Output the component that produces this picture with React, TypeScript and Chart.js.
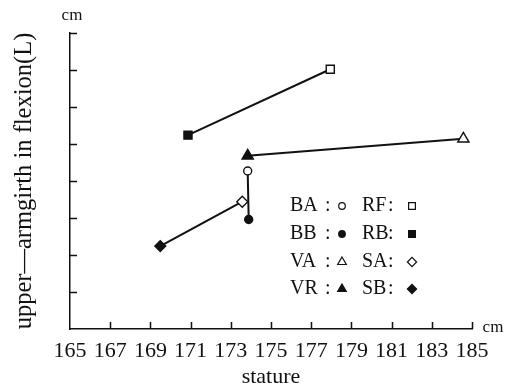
import React, { useEffect, useRef } from 'react';
import { Chart, registerables } from 'chart.js';
import { drawPoint } from 'chart.js/helpers';

Chart.register(...registerables);

// ---- data ----
const xTickValues = [165, 167, 169, 171, 173, 175, 177, 179, 181, 183, 185];
const seriesNames = ['BA', 'BB', 'VA', 'VR', 'RF', 'RB', 'SA', 'SB'];
const statureValues = [173.84, 173.89, 184.57, 173.84, 177.95, 170.87, 173.57, 169.49];
const girthValues = [4.27, 2.96, 5.14, 4.68, 7.02, 5.24, 3.44, 2.24];
const markerStyles = ['circle', 'circle', 'triangle', 'triangle', 'rect', 'rect', 'rectRot', 'rectRot'];
const markerFilled = [false, true, false, true, false, true, false, true];
const linkedPairs = [
  ['BA', 'BB'],
  ['VR', 'VA'],
  ['RB', 'RF'],
  ['SB', 'SA'],
];
const legendColumns = [
  ['BA', 'BB', 'VA', 'VR'],
  ['RF', 'RB', 'SA', 'SB'],
];
const yTickCount = 8;
const xTitle = 'stature';
const yTitle = 'upper\u2014armgirth in flexion(L)';
const unitLabel = 'cm';

// ---- styles ----
const SERIF = "'Liberation Serif', 'Times New Roman', serif";
const INK = '#111';
const markerRadius: Record<string, number> = { circle: 4, triangle: 6.5, rect: 5.7, rectRot: 5.5 };
const legendRadius: Record<string, number> = { circle: 3.3, triangle: 5, rect: 4.8, rectRot: 4.6 };

const idx = (name: string) => seriesNames.indexOf(name);

const decorPlugin = {
  id: 'decor',
  beforeDatasetsDraw(chart: any) {
    const { ctx, chartArea, scales } = chart;
    const x = scales.x;
    const y = scales.y;
    ctx.save();
    ctx.strokeStyle = INK;
    ctx.lineWidth = 1.5;
    ctx.beginPath();
    xTickValues.slice(1).forEach((v) => {
      const px = Math.round(x.getPixelForValue(v)) + 0.5;
      ctx.moveTo(px, chartArea.bottom);
      ctx.lineTo(px, chartArea.bottom - 7);
    });
    for (let i = 1; i <= yTickCount; i++) {
      const py = Math.round(y.getPixelForValue(i)) + 0.5;
      ctx.moveTo(chartArea.left, py);
      ctx.lineTo(chartArea.left + 7, py);
    }
    ctx.stroke();
    ctx.restore();
  },
  afterDraw(chart: any) {
    const { ctx, chartArea } = chart;
    ctx.save();
    ctx.fillStyle = INK;
    ctx.textAlign = 'center';
    ctx.textBaseline = 'middle';
    ctx.font = `17px ${SERIF}`;
    ctx.fillText(unitLabel, chartArea.left + 2, chartArea.top - 17);
    ctx.fillText(unitLabel, chartArea.right + 21, chartArea.bottom - 1);

    // legend
    ctx.font = `20px ${SERIF}`;
    ctx.textAlign = 'left';
    const colText = [chartArea.left + 220, chartArea.left + 292];
    const colColon = [chartArea.left + 255, chartArea.left + 318];
    const colSym = [chartArea.left + 272, chartArea.left + 342];
    const rowY = [205, 233, 261, 288].map((v) => v - 33 + chartArea.top);
    legendColumns.forEach((col, c) => {
      col.forEach((name, r) => {
        const i = idx(name);
        const yy = rowY[r];
        ctx.fillStyle = INK;
        ctx.fillText(name, colText[c], yy + 1);
        ctx.fillText(':', colColon[c], yy + 1);
        const style = markerStyles[i];
        ctx.fillStyle = markerFilled[i] ? INK : '#fff';
        ctx.strokeStyle = INK;
        ctx.lineWidth = 1.2;
        drawPoint(ctx, { pointStyle: style, radius: legendRadius[style], rotation: 0, borderWidth: 1.2 } as any, colSym[c], yy + 1);
      });
    });
    ctx.restore();
  },
};

export default function App() {
  const ref = useRef<HTMLCanvasElement>(null);
  useEffect(() => {
    const canvas = ref.current;
    if (!canvas) return;
    const lineSets = linkedPairs.map(([a, b]) => ({
      type: 'line' as const,
      label: `${a}-${b}`,
      data: [
        { x: statureValues[idx(a)], y: girthValues[idx(a)] },
        { x: statureValues[idx(b)], y: girthValues[idx(b)] },
      ],
      showLine: true,
      borderColor: INK,
      borderWidth: 2,
      pointRadius: 0,
      fill: false,
      order: 2,
    }));
    const markerSet = {
      type: 'scatter' as const,
      label: 'points',
      data: seriesNames.map((_, i) => ({ x: statureValues[i], y: girthValues[i] })),
      pointStyle: markerStyles,
      pointRadius: markerStyles.map((s) => markerRadius[s]),
      backgroundColor: markerFilled.map((f) => (f ? INK : '#fff')),
      borderColor: INK,
      borderWidth: 1.4,
      order: 1,
    };
    const chart = new Chart(canvas, {
      type: 'scatter',
      data: { datasets: [...lineSets, markerSet] as any },
      options: {
        animation: false,
        responsive: false,
        layout: { padding: { top: 33, right: 40, left: 0, bottom: 0 } },
        plugins: { legend: { display: false }, tooltip: { enabled: false } },
        scales: {
          x: {
            type: 'linear',
            min: 165,
            max: 185,
            afterFit: (s: any) => {
              s.height = 59;
            },
            afterBuildTicks: (s: any) => {
              s.ticks = xTickValues.map((v) => ({ value: v }));
            },
            ticks: {
              autoSkip: false,
              maxRotation: 0,
              padding: 1,
              color: INK,
              font: { family: SERIF, size: 22 },
            },
            grid: { display: false },
            border: { display: true, color: INK, width: 1.5 },
            title: {
              display: true,
              text: xTitle,
              color: INK,
              font: { family: SERIF, size: 22, lineHeight: 1 },
              padding: { top: 0, bottom: 0 },
            },
          },
          y: {
            type: 'linear',
            min: 0,
            max: yTickCount,
            afterFit: (s: any) => {
              s.width = 70;
            },
            ticks: { display: false, stepSize: 1 },
            grid: { display: false },
            border: { display: true, color: INK, width: 1.5 },
            title: {
              display: true,
              text: yTitle,
              color: INK,
              font: { family: SERIF, size: 24.5 },
              padding: { top: 10, bottom: 0 },
            },
          },
        },
      },
      plugins: [decorPlugin],
    });
    return () => chart.destroy();
  }, []);
  return (
    <div style={{ position: 'absolute', left: 0, top: 0, width: 512, height: 388, background: '#fff' }}>
      <canvas ref={ref} width={512} height={388} style={{ width: 512, height: 388 }} />
    </div>
  );
}
